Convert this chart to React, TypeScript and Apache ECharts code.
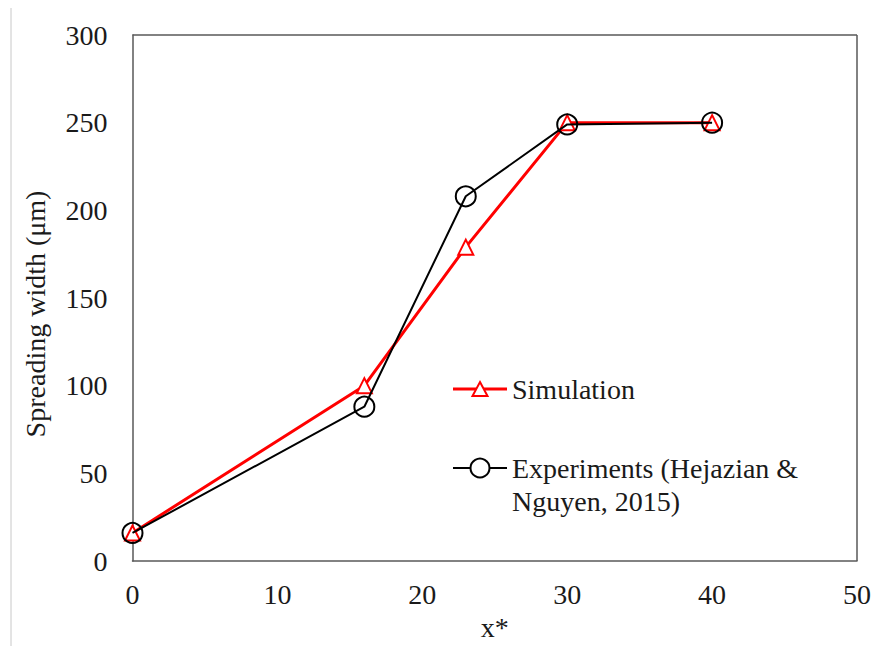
import React, { useEffect, useRef } from "react";
import * as echarts from "echarts";

// x* positions and spreading widths (µm)
const xValues = [0, 16, 23, 30, 40];
const simulation = [16, 100, 179, 250, 250];
const experiments = [16, 88, 208, 249, 250];
const simulationName = "Simulation";
const experimentsName = "Experiments (Hejazian &";
const experimentsName2 = "Nguyen, 2015)";
const yTitle = "Spreading width (μm)";
const xTitle = "x*";

const FONT = "Liberation Serif";
const FS = 28;

export default function App() {
  const ref = useRef<HTMLDivElement>(null);

  useEffect(() => {
    if (!ref.current) return;
    const chart = echarts.init(ref.current, null, { renderer: "svg" });
    const pair = (ys: number[]) => xValues.map((x, i) => [x, ys[i]]);
    chart.setOption({
      animation: false,
      backgroundColor: "#ffffff",
      textStyle: { fontFamily: FONT },
      grid: { left: 132.5, top: 35, right: 17, bottom: 85, show: false },
      xAxis: {
        type: "value",
        min: 0,
        max: 50,
        interval: 10,
        name: xTitle,
        nameLocation: "middle",
        nameGap: 52,
        nameTextStyle: { fontFamily: FONT, fontSize: FS, color: "#1a1a1a" },
        axisLine: { show: true, lineStyle: { color: "#595959", width: 1.5 } },
        axisTick: { show: false },
        splitLine: { show: false },
        axisLabel: { fontFamily: FONT, fontSize: FS, color: "#1a1a1a", margin: 19 },
      },
      yAxis: {
        type: "value",
        min: 0,
        max: 300,
        interval: 50,
        axisLine: { show: true, lineStyle: { color: "#595959", width: 1.5 } },
        axisTick: { show: false },
        splitLine: { show: false },
        axisLabel: { fontFamily: FONT, fontSize: FS, color: "#1a1a1a", margin: 25 },
      },
      graphic: [
        // frame top and right sides
        {
          type: "line",
          shape: { x1: 132.5, y1: 35, x2: 857, y2: 35 },
          style: { stroke: "#595959", lineWidth: 1.5 },
        },
        {
          type: "line",
          shape: { x1: 857, y1: 35, x2: 857, y2: 561 },
          style: { stroke: "#595959", lineWidth: 1.5 },
        },
        // left page rule
        {
          type: "line",
          shape: { x1: 11, y1: 8, x2: 11, y2: 646 },
          style: { stroke: "#c8c8c8", lineWidth: 1 },
        },
        // y-axis title
        {
          type: "text",
          x: 35,
          y: 314,
          rotation: Math.PI / 2,
          style: {
            text: yTitle,
            fontFamily: FONT,
            fontSize: FS,
            fill: "#1a1a1a",
            align: "center",
            verticalAlign: "middle",
          },
        },
        // legend: Simulation
        {
          type: "line",
          shape: { x1: 453, y1: 389, x2: 507, y2: 389 },
          style: { stroke: "#ff0000", lineWidth: 3 },
        },
        {
          type: "polygon",
          shape: { points: [[480, 382], [487.5, 396], [472.5, 396]] },
          style: { fill: "#ffffff", stroke: "#ff0000", lineWidth: 2 },
        },
        {
          type: "text",
          x: 512,
          y: 389,
          style: {
            text: simulationName,
            fontFamily: FONT,
            fontSize: FS,
            fill: "#1a1a1a",
            verticalAlign: "middle",
          },
        },
        // legend: Experiments
        {
          type: "line",
          shape: { x1: 453, y1: 468, x2: 507, y2: 468 },
          style: { stroke: "#000000", lineWidth: 2 },
        },
        {
          type: "circle",
          shape: { cx: 480, cy: 468, r: 9.5 },
          style: { fill: "#ffffff", stroke: "#000000", lineWidth: 2 },
        },
        {
          type: "text",
          x: 512,
          y: 468,
          style: {
            text: experimentsName,
            fontFamily: FONT,
            fontSize: FS,
            fill: "#1a1a1a",
            verticalAlign: "middle",
          },
        },
        {
          type: "text",
          x: 512,
          y: 501,
          style: {
            text: experimentsName2,
            fontFamily: FONT,
            fontSize: FS,
            fill: "#1a1a1a",
            verticalAlign: "middle",
          },
        },
      ],
      series: [
        {
          name: simulationName,
          type: "line",
          data: pair(simulation),
          symbol: "triangle",
          symbolSize: 15,
          lineStyle: { color: "#ff0000", width: 3 },
          itemStyle: { color: "#ffffff", borderColor: "#ff0000", borderWidth: 2 },
          z: 2,
        },
        {
          name: experimentsName + " " + experimentsName2,
          type: "line",
          data: pair(experiments),
          symbol: "circle",
          symbolSize: 20,
          lineStyle: { color: "#000000", width: 2 },
          itemStyle: { color: "rgba(255,255,255,0)", borderColor: "#000000", borderWidth: 2 },
          z: 3,
        },
      ],
    });
    return () => chart.dispose();
  }, []);

  return <div ref={ref} style={{ width: 874, height: 646, position: "absolute", left: 0, top: 0 }} />;
}
